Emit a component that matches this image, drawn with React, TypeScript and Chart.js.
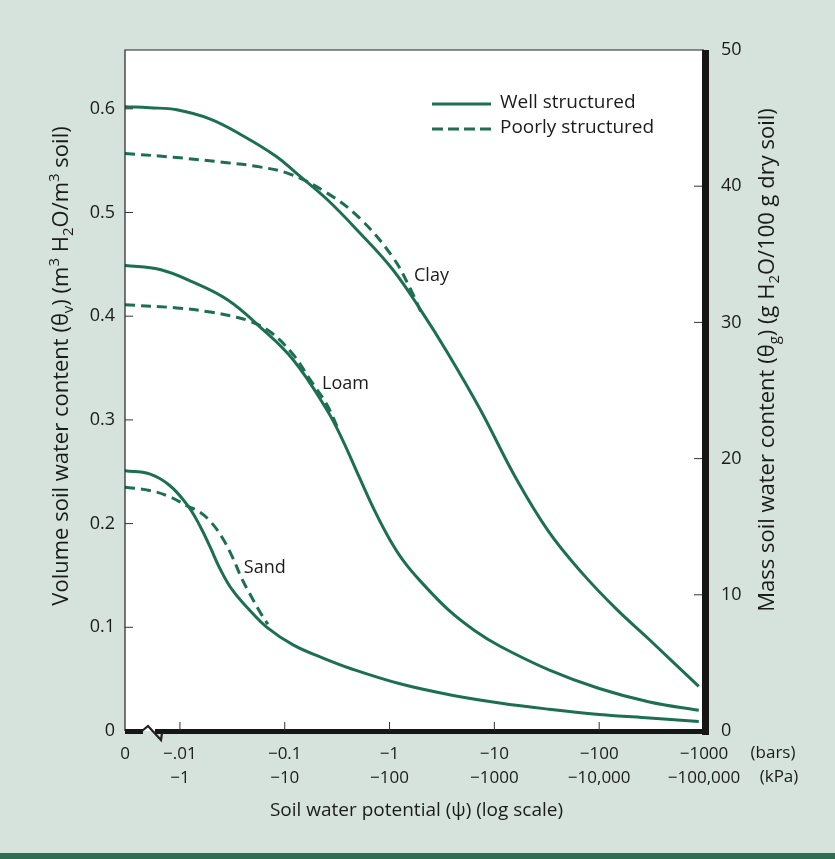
import React, { useEffect, useRef } from 'react';
import { Chart, registerables } from 'chart.js';
Chart.register(...registerables);

// x axis is in decades of suction: 0 = -0.01 bar, 1 = -0.1 bar, ... 5 = -1000 bar
const ZERO_POS = -0.524; // where "0 bars" sits on the broken axis
const xTickValues = [ZERO_POS, 0, 1, 2, 3, 4, 5];
const barsLabels = ['0', '\u2212.01', '\u22120.1', '\u22121', '\u221210', '\u2212100', '\u22121000'];
const kpaLabels = ['', '\u22121', '\u221210', '\u2212100', '\u22121000', '\u221210,000', '\u2212100,000'];
const volTicks = [0, 0.1, 0.2, 0.3, 0.4, 0.5, 0.6];
const massTicks = [0, 10, 20, 30, 40, 50];

const clayWellX = [ZERO_POS, -0.29, -0.03, 0.29, 0.6, 0.92, 1.11, 1.4, 1.71, 2.03, 2.31, 2.54, 2.86, 3.21, 3.52, 3.84, 4.16, 4.48, 4.95];
const clayWellY = [0.602, 0.601, 0.599, 0.59, 0.574, 0.554, 0.538, 0.513, 0.481, 0.445, 0.404, 0.367, 0.311, 0.243, 0.192, 0.152, 0.118, 0.088, 0.043];
const clayPoorX = [ZERO_POS, -0.03, 0.45, 0.76, 1.05, 1.4, 1.71, 2.03, 2.2, 2.3];
const clayPoorY = [0.557, 0.553, 0.548, 0.544, 0.537, 0.519, 0.495, 0.457, 0.426, 0.404];
const loamWellX = [ZERO_POS, -0.19, 0.12, 0.45, 0.76, 1.08, 1.4, 1.55, 1.71, 1.86, 2.0, 2.14, 2.29, 2.57, 2.81, 3.05, 3.52, 4.0, 4.48, 4.95];
const loamWellY = [0.449, 0.445, 0.433, 0.416, 0.39, 0.358, 0.31, 0.281, 0.245, 0.212, 0.185, 0.163, 0.145, 0.116, 0.097, 0.082, 0.059, 0.041, 0.028, 0.02];
const loamPoorX = [ZERO_POS, -0.03, 0.29, 0.54, 0.67, 0.86, 1.08, 1.24, 1.4, 1.52];
const loamPoorY = [0.411, 0.408, 0.404, 0.399, 0.395, 0.385, 0.363, 0.339, 0.315, 0.289];
const sandWellX = [ZERO_POS, -0.29, -0.1, 0.07, 0.19, 0.29, 0.38, 0.5, 0.67, 0.83, 1.08, 1.36, 1.62, 2.1, 2.57, 3.05, 3.52, 4.0, 4.48, 4.95];
const sandWellY = [0.251, 0.248, 0.237, 0.218, 0.198, 0.177, 0.157, 0.136, 0.116, 0.1, 0.083, 0.0705, 0.0605, 0.0455, 0.035, 0.027, 0.021, 0.016, 0.0125, 0.0092];
const sandPoorX = [ZERO_POS, -0.29, -0.1, 0.07, 0.19, 0.3, 0.4, 0.5, 0.59, 0.69, 0.78, 0.84];
const sandPoorY = [0.235, 0.232, 0.226, 0.217, 0.211, 0.201, 0.187, 0.168, 0.147, 0.128, 0.112, 0.103];

const curveNames = ['Clay', 'Loam', 'Sand'];
const curveLabelX = [2.4, 1.58, 0.81];
const curveLabelY = [0.439, 0.335, 0.157];

const legendNames = ['Well structured', 'Poorly structured'];

const GREEN = '#1c6f50';
const BG = '#d5e3dc';
const INK = '#1b1b1b';
const FONT = "'Open Sans', 'DejaVu Sans', sans-serif";

type Seg = { t: string; sub?: boolean; sup?: boolean };
const leftTitle: Seg[] = [
  { t: 'Volume soil water content (\u03b8' }, { t: 'v', sub: true }, { t: ') (m' }, { t: '3', sup: true },
  { t: ' H' }, { t: '2', sub: true }, { t: 'O/m' }, { t: '3', sup: true }, { t: ' soil)' },
];
const rightTitle: Seg[] = [
  { t: 'Mass soil water content (\u03b8' }, { t: 'g', sub: true }, { t: ') (g H' }, { t: '2', sub: true },
  { t: 'O/100 g dry soil)' },
];
const bottomTitle: Seg[] = [{ t: 'Soil water potential (\u03c8) (log scale)' }];

function pts(xs: number[], ys: number[]) {
  return xs.map((x, i) => ({ x, y: ys[i] }));
}

function drawRich(ctx: CanvasRenderingContext2D, segs: Seg[], cx: number, cy: number, rot: number, size: number) {
  ctx.save();
  ctx.translate(cx, cy);
  ctx.rotate(rot);
  const fontFor = (s: Seg) => `${s.sub || s.sup ? Math.round(size * 0.68) : size}px ${FONT}`;
  let total = 0;
  for (const s of segs) {
    ctx.font = fontFor(s);
    total += ctx.measureText(s.t).width;
  }
  let x = -total / 2;
  ctx.fillStyle = INK;
  ctx.textBaseline = 'middle';
  ctx.textAlign = 'left';
  for (const s of segs) {
    ctx.font = fontFor(s);
    const dy = s.sub ? size * 0.3 : s.sup ? -size * 0.32 : 0;
    ctx.fillText(s.t, x, dy);
    x += ctx.measureText(s.t).width;
  }
  ctx.restore();
}

const framePlugin = {
  id: 'frame',
  beforeDraw(chart: any) {
    const { ctx, chartArea: a, width, height } = chart;
    ctx.save();
    ctx.fillStyle = BG;
    ctx.fillRect(0, 0, width, height);
    ctx.fillStyle = '#2f6c50';
    ctx.fillRect(0, height - 6, width, 6);
    ctx.fillStyle = '#ffffff';
    ctx.fillRect(a.left, a.top, a.right - a.left, a.bottom - a.top);
    ctx.restore();
  },
  afterDraw(chart: any) {
    const { ctx, chartArea: a, scales } = chart;
    ctx.save();
    ctx.strokeStyle = '#222';
    ctx.fillStyle = '#161616';
    // thin top and left borders
    ctx.lineWidth = 1.2;
    ctx.beginPath();
    ctx.moveTo(a.left, a.bottom);
    ctx.lineTo(a.left, a.top);
    ctx.lineTo(a.right, a.top);
    ctx.stroke();
    // thick right and bottom borders
    ctx.fillRect(a.right - 2, a.top, 7, a.bottom - a.top + 4);
    ctx.fillRect(a.left, a.bottom - 2, 18, 5);
    ctx.fillRect(a.left + 30, a.bottom - 2, a.right - a.left - 25, 5);
    // axis break
    ctx.lineWidth = 2.2;
    ctx.beginPath();
    ctx.moveTo(a.left + 17, a.bottom);
    ctx.lineTo(a.left + 23, a.bottom - 5);
    ctx.lineTo(a.left + 36, a.bottom + 9);
    ctx.lineTo(a.left + 37, a.bottom + 2);
    ctx.stroke();
    // inner tick marks
    ctx.lineWidth = 1;
    ctx.strokeStyle = '#333';
    ctx.beginPath();
    for (const v of volTicks) {
      if (v === 0) continue;
      const y = scales.y.getPixelForValue(v);
      ctx.moveTo(a.left, y);
      ctx.lineTo(a.left + 8, y);
    }
    for (const v of massTicks) {
      if (v === 0 || v === 50) continue;
      const y = scales.y2.getPixelForValue(v);
      ctx.moveTo(a.right - 2, y);
      ctx.lineTo(a.right - 10, y);
    }
    for (const v of xTickValues) {
      if (v <= 0 - 1e-9 || v >= 5) continue;
      const x = scales.x.getPixelForValue(v);
      ctx.moveTo(x, a.bottom);
      ctx.lineTo(x, a.bottom - 9);
    }
    ctx.stroke();

    // unit labels for the two x rows
    ctx.fillStyle = INK;
    ctx.font = `17px ${FONT}`;
    ctx.textAlign = 'center';
    ctx.textBaseline = 'middle';
    ctx.fillText('(bars)', a.right + 69, a.bottom + 22);
    ctx.fillText('(kPa)', a.right + 75, a.bottom + 46);

    // curve names
    ctx.font = `18px ${FONT}`;
    curveNames.forEach((n, i) => {
      ctx.fillText(n, scales.x.getPixelForValue(curveLabelX[i]), scales.y.getPixelForValue(curveLabelY[i]));
    });

    // legend
    ctx.strokeStyle = GREEN;
    ctx.lineWidth = 3.2;
    ctx.beginPath();
    ctx.moveTo(432, 104);
    ctx.lineTo(491, 104);
    ctx.stroke();
    ctx.setLineDash([11, 5]);
    ctx.beginPath();
    ctx.moveTo(432, 129);
    ctx.lineTo(491, 129);
    ctx.stroke();
    ctx.setLineDash([]);
    ctx.font = `19px ${FONT}`;
    ctx.textAlign = 'left';
    ctx.fillText(legendNames[0], 500, 103);
    ctx.fillText(legendNames[1], 500, 128);

    // axis titles
    drawRich(ctx, leftTitle, 62, 366, -Math.PI / 2, 22);
    drawRich(ctx, rightTitle, 768, 360, -Math.PI / 2, 22);
    drawRich(ctx, bottomTitle, (a.left + a.right) / 2 + 2, a.bottom + 80, 0, 19);
    ctx.restore();
  },
};

export default function App() {
  const ref = useRef<HTMLCanvasElement>(null);
  useEffect(() => {
    if (!ref.current) return;
    const line = (xs: number[], ys: number[], dashed: boolean, label: string) => ({
      label,
      data: pts(xs, ys),
      yAxisID: 'y',
      borderColor: GREEN,
      borderWidth: 3,
      borderDash: dashed ? [10, 6] : [],
      pointRadius: 0,
      fill: false,
      tension: 0.4,
    });
    const tickFont = { family: FONT, size: 18 };
    const chart = new Chart(ref.current, {
      type: 'line',
      data: {
        datasets: [
          line(clayWellX, clayWellY, false, 'Clay well'),
          line(clayPoorX, clayPoorY, true, 'Clay poor'),
          line(loamWellX, loamWellY, false, 'Loam well'),
          line(loamPoorX, loamPoorY, true, 'Loam poor'),
          line(sandWellX, sandWellY, false, 'Sand well'),
          line(sandPoorX, sandPoorY, true, 'Sand poor'),
        ],
      },
      options: {
        animation: false,
        responsive: false,
        devicePixelRatio: 1,
        layout: { padding: { top: 50, left: 0, right: 0, bottom: 0 } },
        plugins: { legend: { display: false }, tooltip: { enabled: false } },
        scales: {
          x: {
            type: 'linear',
            min: ZERO_POS,
            max: 5,
            grid: { display: false, drawTicks: false },
            border: { display: false },
            afterBuildTicks: (s: any) => { s.ticks = xTickValues.map((v) => ({ value: v })); },
            afterFit: (s: any) => { s.height = 128; },
            ticks: {
              autoSkip: false,
              maxRotation: 0,
              padding: 11,
              color: INK,
              font: { family: FONT, size: 17, lineHeight: '24px' as any },
              callback: (_v: any, i: number) => (kpaLabels[i] ? [barsLabels[i], kpaLabels[i]] : barsLabels[i]),
            },
          },
          y: {
            type: 'linear',
            position: 'left',
            min: 0,
            max: 0.6567,
            grid: { display: false, drawTicks: false },
            border: { display: false },
            afterBuildTicks: (s: any) => { s.ticks = volTicks.map((v) => ({ value: v })); },
            afterFit: (s: any) => { s.width = 125; },
            ticks: {
              padding: 10,
              color: INK,
              font: tickFont,
              callback: (v: any) => (v === 0 ? '0' : Number(v).toFixed(1)),
            },
          },
          y2: {
            type: 'linear',
            position: 'right',
            min: 0,
            max: 50,
            grid: { display: false, drawTicks: false },
            border: { display: false },
            afterBuildTicks: (s: any) => { s.ticks = massTicks.map((v) => ({ value: v })); },
            afterFit: (s: any) => { s.width = 131; },
            ticks: {
              padding: 17,
              color: INK,
              font: tickFont,
              callback: (v: any) => String(v),
            },
          },
        },
      },
      plugins: [framePlugin],
    });
    return () => chart.destroy();
  }, []);
  return (
    <div style={{ position: 'absolute', left: 0, top: 0, width: 835, height: 859, background: BG }}>
      <canvas ref={ref} width={835} height={859} style={{ display: 'block', width: 835, height: 859 }} />
    </div>
  );
}
